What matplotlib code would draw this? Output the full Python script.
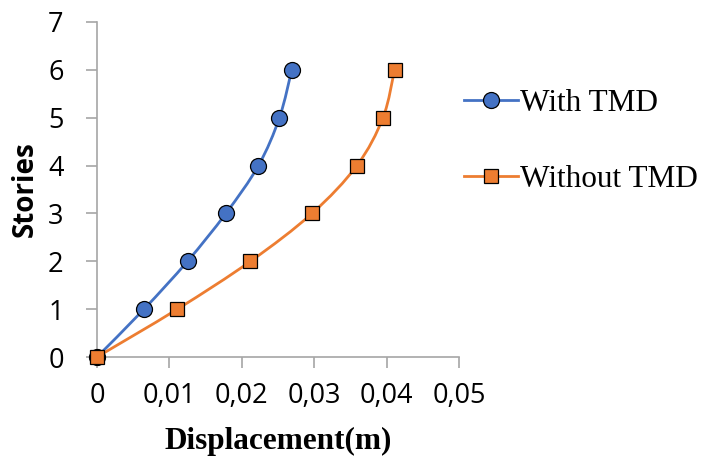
import numpy as np
import matplotlib
matplotlib.use("Agg")
import matplotlib.pyplot as plt
from matplotlib.path import Path
from matplotlib.patches import PathPatch
from matplotlib.lines import Line2D
from matplotlib.ticker import FuncFormatter

# Data
stories = [0, 1, 2, 3, 4, 5, 6]
with_tmd = [0.0, 0.0065, 0.0125, 0.0178, 0.0223, 0.0252, 0.0269]
without_tmd = [0.0, 0.0111, 0.0212, 0.0297, 0.0359, 0.0395, 0.0411]

blue = "#4472C4"
orange = "#ED7D31"


def smooth_path(x, y):
    # Excel-like smoothing: Catmull-Rom segments drawn as cubic Bezier curves
    x = np.asarray(x, float)
    y = np.asarray(y, float)
    verts = [(x[0], y[0])]
    codes = [Path.MOVETO]
    n = len(x)
    for i in range(n - 1):
        x0, y0 = (x[i - 1], y[i - 1]) if i > 0 else (x[i], y[i])
        x3, y3 = (x[i + 2], y[i + 2]) if i + 2 < n else (x[i + 1], y[i + 1])
        c1 = (x[i] + (x[i + 1] - x0) / 6, y[i] + (y[i + 1] - y0) / 6)
        c2 = (x[i + 1] - (x3 - x[i]) / 6, y[i + 1] - (y3 - y[i]) / 6)
        verts += [c1, c2, (x[i + 1], y[i + 1])]
        codes += [Path.CURVE4] * 3
    return Path(verts, codes)


fig = plt.figure(figsize=(7.05, 4.62), dpi=100)
ax = fig.add_axes([97 / 705, 1 - 357 / 462, 362 / 705, 335 / 462])

for xs, col in [(with_tmd, blue), (without_tmd, orange)]:
    ax.add_patch(PathPatch(smooth_path(xs, stories), facecolor="none",
                           edgecolor=col, lw=2, zorder=2))

ax.plot(with_tmd, stories, ls="none", marker="o", ms=11.5, mfc=blue,
        mec="black", mew=0.9, zorder=3, clip_on=False)
ax.plot(without_tmd, stories, ls="none", marker="s", ms=10, mfc=orange,
        mec="black", mew=0.9, zorder=4, clip_on=False)

ax.set_xlim(0, 0.05)
ax.set_ylim(0, 7)
ax.set_xticks(np.arange(0, 0.051, 0.01))
ax.set_yticks(range(8))
ax.xaxis.set_major_formatter(FuncFormatter(
    lambda v, p: "0" if abs(v) < 1e-9 else f"{v:.2f}".replace(".", ",")))

for s in ["top", "right"]:
    ax.spines[s].set_visible(False)
for s in ["left", "bottom"]:
    ax.spines[s].set_color("#a6a6a6")
    ax.spines[s].set_linewidth(1.2)
ax.tick_params(axis="both", colors="#a6a6a6", length=8, width=1.2,
               labelcolor="black", labelsize=19.5)
for lab in ax.get_xticklabels() + ax.get_yticklabels():
    lab.set_family("Open Sans")
ax.tick_params(axis="x", pad=10)
ax.tick_params(axis="y", pad=16)

ax.set_xlabel("Displacement(m)", family="Liberation Serif", fontweight="bold",
              fontsize=22.5, labelpad=12)
ax.set_ylabel("Stories", family="Open Sans", fontweight="bold", fontsize=20,
              labelpad=6)

handles = [
    Line2D([], [], color=blue, lw=2, marker="o", ms=11.5, mfc=blue,
           mec="black", mew=0.9),
    Line2D([], [], color=orange, lw=2, marker="s", ms=10, mfc=orange,
           mec="black", mew=0.9),
]
fig.legend(handles, ["With TMD", "Without TMD"], loc="upper left",
           bbox_to_anchor=(455 / 705, 1 - 80 / 462), frameon=False,
           prop={"family": "Liberation Serif", "size": 22.5},
           handlelength=1.7, handletextpad=0.08, labelspacing=1.5,
           borderaxespad=0, borderpad=0.3)

fig.savefig("out.png", dpi=100)
